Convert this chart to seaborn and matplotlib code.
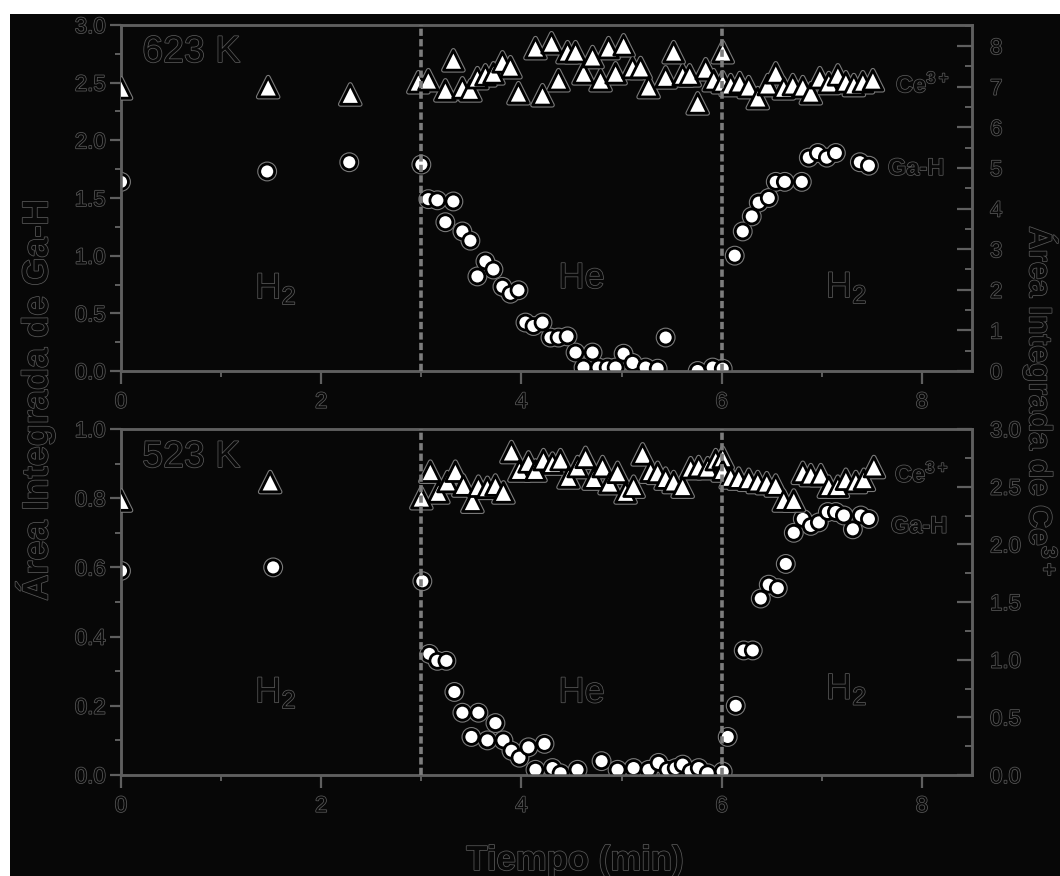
import pandas as pd
import seaborn as sns
import matplotlib.pyplot as plt
import matplotlib.patheffects as pe
from matplotlib.patches import Rectangle
from matplotlib.ticker import MultipleLocator, FormatStrFormatter


# 623 K panel
t623_gah = [0.0, 1.46, 2.28, 3.0, 3.07, 3.16, 3.32, 3.24, 3.41, 3.49,
	3.64, 3.72, 3.56, 3.81, 3.89, 3.97, 4.04, 4.12, 4.21, 4.29,
	4.37, 4.46, 4.54, 4.71, 4.62, 4.77, 4.86, 4.94, 5.02, 5.11,
	5.24, 5.36, 5.44, 5.76, 5.91, 6.01, 6.13, 6.21, 6.30, 6.37,
	6.47, 6.54, 6.63, 6.80, 6.87, 6.96, 7.05, 7.14, 7.38, 7.47]
gah_623 = [1.64, 1.73, 1.81, 1.79, 1.49, 1.48, 1.47, 1.29, 1.21, 1.13,
	0.95, 0.88, 0.82, 0.73, 0.67, 0.70, 0.42, 0.39, 0.42, 0.29,
	0.29, 0.30, 0.16, 0.16, 0.03, 0.03, 0.03, 0.03, 0.15, 0.07,
	0.03, 0.02, 0.29, 0.00, 0.03, 0.02, 1.00, 1.21, 1.34, 1.46,
	1.50, 1.64, 1.64, 1.64, 1.85, 1.89, 1.85, 1.89, 1.81, 1.78]

t623_ce = [0.0, 1.47, 2.29, 2.97, 3.07, 3.24, 3.32, 3.41, 3.49, 3.56,
	3.64, 3.72, 3.81, 3.89, 3.97, 4.14, 4.21, 4.30, 4.37, 4.46,
	4.54, 4.62, 4.71, 4.79, 4.87, 4.94, 5.02, 5.11, 5.19, 5.27,
	5.44, 5.52, 5.61, 5.68, 5.76, 5.84, 5.92, 6.01, 6.01, 6.09,
	6.18, 6.27, 6.36, 6.46, 6.54, 6.62, 6.71, 6.81, 6.89, 6.98,
	7.07, 7.16, 7.24, 7.32, 7.41, 7.51]
ce_623 = [6.96, 6.99, 6.81, 7.11, 7.16, 6.91, 7.65, 6.96, 6.91, 7.21,
	7.28, 7.33, 7.60, 7.48, 6.84, 7.95, 6.79, 8.07, 7.16, 7.85,
	7.85, 7.33, 7.73, 7.16, 7.95, 7.33, 8.02, 7.46, 7.46, 6.99,
	7.23, 7.85, 7.28, 7.28, 6.59, 7.43, 7.16, 7.85, 7.11, 7.04,
	7.09, 6.99, 6.72, 7.04, 7.33, 6.96, 7.04, 6.99, 6.84, 7.21,
	7.09, 7.28, 7.11, 7.04, 7.11, 7.16]

# 523 K panel
t523_gah = [0.0, 1.52, 3.01, 3.08, 3.16, 3.25, 3.33, 3.41, 3.57, 3.74,
	3.50, 3.66, 3.82, 3.90, 3.98, 4.07, 4.23, 4.14, 4.31, 4.39,
	4.56, 4.80, 4.96, 5.12, 5.27, 5.37, 5.46, 5.54, 5.61, 5.69,
	5.77, 5.86, 6.01, 6.06, 6.14, 6.22, 6.31, 6.39, 6.47, 6.56,
	6.64, 6.72, 6.81, 6.89, 6.97, 7.06, 7.14, 7.22, 7.31, 7.39,
	7.47]
gah_523 = [0.59, 0.60, 0.56, 0.35, 0.33, 0.33, 0.24, 0.18, 0.18, 0.15,
	0.11, 0.10, 0.10, 0.07, 0.05, 0.08, 0.09, 0.015, 0.02, 0.005,
	0.015, 0.04, 0.015, 0.02, 0.015, 0.035, 0.015, 0.02, 0.03, 0.01,
	0.02, 0.005, 0.01, 0.11, 0.20, 0.36, 0.36, 0.51, 0.55, 0.54,
	0.61, 0.70, 0.74, 0.72, 0.73, 0.76, 0.76, 0.75, 0.71, 0.75,
	0.74]

t523_ce = [0.0, 1.49, 3.00, 3.09, 3.17, 3.26, 3.34, 3.42, 3.51, 3.57,
	3.66, 3.74, 3.82, 3.90, 3.98, 4.07, 4.14, 4.22, 4.31, 4.39,
	4.47, 4.56, 4.64, 4.72, 4.81, 4.88, 4.96, 5.04, 5.12, 5.21,
	5.29, 5.36, 5.44, 5.52, 5.61, 5.69, 5.77, 5.86, 5.94, 6.01,
	6.01, 6.09, 6.17, 6.27, 6.36, 6.45, 6.54, 6.62, 6.72, 6.81,
	6.89, 6.99, 7.07, 7.16, 7.24, 7.34, 7.42, 7.52]
ce_523 = [2.38, 2.54, 2.40, 2.63, 2.45, 2.54, 2.63, 2.51, 2.37, 2.50,
	2.49, 2.51, 2.45, 2.80, 2.64, 2.71, 2.64, 2.73, 2.70, 2.73,
	2.58, 2.67, 2.75, 2.57, 2.67, 2.53, 2.62, 2.45, 2.50, 2.78,
	2.63, 2.62, 2.57, 2.54, 2.50, 2.66, 2.67, 2.66, 2.73, 2.75,
	2.64, 2.58, 2.57, 2.56, 2.54, 2.53, 2.51, 2.38, 2.38, 2.62,
	2.60, 2.60, 2.50, 2.50, 2.56, 2.54, 2.56, 2.67]

switch_times = [3, 6]
gas_labels = ["H$_2$", "He", "H$_2$"]


sns.set_theme(style="ticks")
plt.rcParams['font.family'] = ['Liberation Sans', 'DejaVu Sans']
plt.rcParams['mathtext.fontset'] = 'custom'
plt.rcParams['mathtext.rm'] = 'Liberation Sans'
plt.rcParams['mathtext.bf'] = 'Liberation Sans:bold'

BG = '#070707'
EDGE = '#5f5f5f'
TXT = '#080808'
OUTLINE = [pe.withStroke(linewidth=1.1, foreground='#595959')]
RING = [pe.Stroke(linewidth=3.6, foreground='#7a7a7a'), pe.Normal()]


def outlined(artists):
	for a in artists:
		a.set_path_effects(OUTLINE)


def panel(ax, t_gah, gah, t_ce, ce, temp, left_lim, left_step, left_minor,
		right_lim, right_step, right_minor, right_fmt, gas_pos, name_pos):

	ax.set_facecolor(BG)
	sns.scatterplot(x=t_gah, y=gah, ax=ax, marker='o', s=115, color='white',
		edgecolor='black', linewidth=2.0, zorder=3, legend=False)
	ax.collections[-1].set_path_effects(RING)

	ax2 = ax.twinx()
	sns.scatterplot(x=t_ce, y=ce, ax=ax2, marker='^', s=200, color='white',
		edgecolor='black', linewidth=2.0, zorder=3, legend=False)
	ax2.collections[-1].set_path_effects(RING)

	for t in switch_times:
		ax2.axvline(t, color='#7d7d7d', lw=2.6, ls=(0, (2.0, 0.9)), zorder=6)

	ax.set_xlim(0, 8.5)
	ax.set_ylim(*left_lim)
	ax2.set_ylim(*right_lim)

	ax.xaxis.set_major_locator(MultipleLocator(2))
	ax.xaxis.set_minor_locator(MultipleLocator(1))
	ax.yaxis.set_major_locator(MultipleLocator(left_step))
	ax.yaxis.set_minor_locator(MultipleLocator(left_minor))
	ax.yaxis.set_major_formatter(FormatStrFormatter('%.1f'))
	ax2.yaxis.set_major_locator(MultipleLocator(right_step))
	ax2.yaxis.set_minor_locator(MultipleLocator(right_minor))
	ax2.yaxis.set_major_formatter(FormatStrFormatter(right_fmt))

	for a in (ax, ax2):
		for s in a.spines.values():
			s.set_color(EDGE)
			s.set_linewidth(1.8)

	ax.tick_params(axis='x', which='major', direction='out', length=9, width=1.6,
		color=EDGE, labelcolor=TXT, labelsize=16, pad=6)
	ax.tick_params(axis='x', which='minor', direction='out', length=4, width=1.4, color=EDGE)
	ax.tick_params(axis='y', which='major', direction='out', length=8, width=1.6,
		color=EDGE, labelcolor=TXT, labelsize=16, pad=3)
	ax.tick_params(axis='y', which='minor', direction='out', length=4, width=1.4, color=EDGE)
	ax2.tick_params(axis='y', which='major', direction='in', length=11, width=1.6,
		color=EDGE, labelcolor=TXT, labelsize=16, pad=13)
	ax2.tick_params(axis='y', which='minor', direction='in', length=5, width=1.4, color=EDGE)

	ax.set_xlabel("")
	ax.set_ylabel("")
	ax2.set_ylabel("")

	outlined(ax.get_xticklabels() + ax.get_yticklabels() + ax2.get_yticklabels())

	ax.text(0.025, name_pos, temp, transform=ax.transAxes, fontsize=27,
		color=TXT, va='baseline', path_effects=OUTLINE)

	for (gx, gy), g in zip(gas_pos, gas_labels):
		ax.text(gx, gy, g, fontsize=26, color=TXT, va='baseline', path_effects=OUTLINE)

	return ax2


fig = plt.figure(figsize=(10.6, 8.76), dpi=100, facecolor='white')
fig.add_artist(Rectangle((10 / 1060, 0), 1, 1 - 14 / 876, transform=fig.transFigure,
	facecolor=BG, edgecolor='none', zorder=-10))

ax_top = fig.add_axes([121 / 1060, 1 - 371 / 876, 851 / 1060, 346 / 876])
ax_bot = fig.add_axes([121 / 1060, 1 - 775 / 876, 851 / 1060, 346 / 876])

ax_top2 = panel(ax_top, t623_gah, gah_623, t623_ce, ce_623, "623 K",
	(0, 3.0), 0.5, 0.25, (0, 8.52), 1, 0.5, '%d',
	[(1.34, 0.63), (4.37, 0.72), (7.04, 0.64)], 0.893)
ax_bot2 = panel(ax_bot, t523_gah, gah_523, t523_ce, ce_523, "523 K",
	(0, 1.0), 0.2, 0.1, (0, 3.0), 0.5, 0.25, '%.1f',
	[(1.34, 0.21), (4.37, 0.21), (7.04, 0.22)], 0.89)

# series names next to the data
ax_top2.text(7.74, 6.86, "Ce$^{\\mathbf{3+}}$", fontsize=17, fontweight='bold',
	color=TXT, va='baseline', path_effects=OUTLINE)
ax_top.text(7.66, 1.70, "Ga-H", fontsize=17, fontweight='bold',
	color=TXT, va='baseline', path_effects=OUTLINE)
ax_bot2.text(7.73, 2.54, "Ce$^{\\mathbf{3+}}$", fontsize=17, fontweight='bold',
	color=TXT, va='baseline', path_effects=OUTLINE)
ax_bot.text(7.69, 0.70, "Ga-H", fontsize=17, fontweight='bold',
	color=TXT, va='baseline', path_effects=OUTLINE)

fig.text(35 / 1060, 1 - 400 / 876, "Área Integrada de Ga-H", rotation=90,
	fontsize=26, fontweight='bold', color=TXT, ha='center', va='center', path_effects=OUTLINE)
fig.text(1040 / 1060, 1 - 402 / 876, "Área Integrada de Ce$^{\\mathbf{3+}}$", rotation=270,
	fontsize=23, fontweight='bold', color=TXT, ha='center', va='center', path_effects=OUTLINE)
fig.text(575 / 1060, 1 - 870 / 876, "Tiempo (min)", fontsize=25, fontweight='bold',
	color=TXT, ha='center', va='baseline', path_effects=OUTLINE)

plt.savefig("out.png", dpi=100, facecolor=fig.get_facecolor())
